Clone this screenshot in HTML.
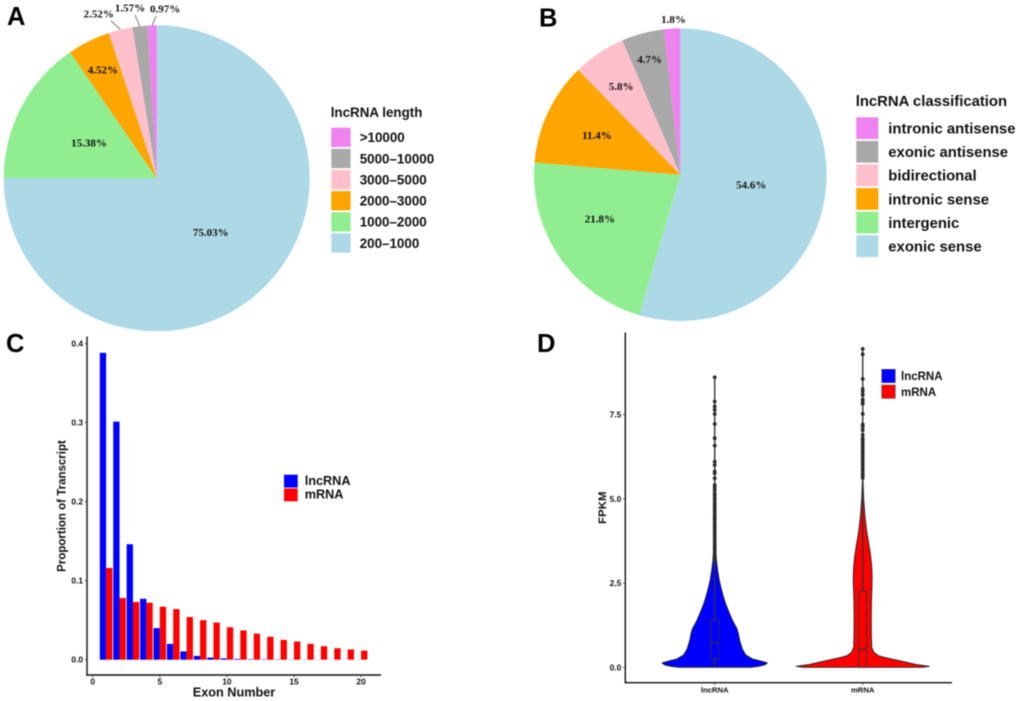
<!DOCTYPE html>
<html lang="en">
<head>
<meta charset="utf-8">
<title>lncRNA and mRNA characteristics</title>
<style>
html,body{margin:0;padding:0;background:#fff;}
body{width:1020px;height:701px;overflow:hidden;}
svg{display:block;filter:blur(0.4px);}
text{font-family:"Liberation Sans",Arial,sans-serif;font-weight:bold;fill:#111;}
.pct{font-family:"Liberation Serif","Times New Roman",serif;font-size:11px;text-anchor:middle;}
.letter{font-size:25.5px;fill:#000;}
</style>
</head>
<body>
<svg id="figure" xmlns="http://www.w3.org/2000/svg" width="1020" height="701" viewBox="0 0 1020 701">
  <rect width="1020" height="701" fill="#fff"/>
  <text class="letter" x="7" y="25">A</text>
  <text class="letter" x="539" y="26.5">B</text>
  <text class="letter" x="6" y="352">C</text>
  <text class="letter" x="537" y="352">D</text>
  <g id="panel-a"></g>
  <g id="panel-b"></g>
  <g id="panel-c"></g>
  <g id="panel-d"></g>
</svg>
<script>
// ---------- Panel A data ----------
const lengthCategories = ['200\u20131000','1000\u20132000','2000\u20133000','3000\u20135000','5000\u201310000','>10000'];
const lengthShares = [75.03,15.38,4.52,2.52,1.57,0.97];
const lengthLabels = ['75.03%','15.38%','4.52%','2.52%','1.57%','0.97%'];
// ---------- Panel B data ----------
const classCategories = ['exonic sense','intergenic','intronic sense','bidirectional','exonic antisense','intronic antisense'];
const classShares = [54.6,21.8,11.4,5.8,4.7,1.8];
const classLabels = ['54.6%','21.8%','11.4%','5.8%','4.7%','1.8%'];
const sliceColors = ['#ADD8E6','#90EE90','#FFA500','#FFC0CB','#A9A9A9','#EE82EE'];
// ---------- Panel C data ----------
const exonNumbers = [1,2,3,4,5,6,7,8,9,10,11,12,13,14,15,16,17,18,19,20];
const lncrnaProportion = [0.388,0.301,0.146,0.077,0.040,0.020,0.0105,0.0048,0.0027,0.0017,0.001,0.0006,0.0005,0.0004,0.0003,0.0002,0.0002,0.0001,0.0001,0.0001];
const mrnaProportion = [0.116,0.078,0.073,0.072,0.067,0.064,0.054,0.050,0.047,0.041,0.037,0.033,0.029,0.025,0.023,0.020,0.017,0.0145,0.013,0.0115];
const barYTicks = [0,0.1,0.2,0.3,0.4];
const barXTicks = [0,5,10,15,20];
// ---------- Panel D data ----------
const fpkmTicks = [0,2.5,5,7.5];
const fpkmTickLabels = ['0.0','2.5','5.0','7.5'];
const lncViolinLevels = [0,0.03,0.07,0.13,0.18,0.25,0.37,0.54,0.79,1.0,1.14,1.25,1.4,1.6,1.88,2.1,2.37,2.6,2.87,3.17,3.5,4,5,6,8.61];
const lncViolinDensity = [0.54,0.66,0.75,0.79,0.70,0.565,0.465,0.415,0.375,0.355,0.335,0.305,0.265,0.222,0.165,0.13,0.094,0.067,0.045,0.027,0.016,0.009,0.004,0.002,0];
const mrnaViolinLevels = [0,0.03,0.08,0.2,0.3,0.35,0.45,0.6,1,1.5,2,2.4,2.7,3,3.3,3.6,4,4.5,5,5.6,9.45];
const mrnaViolinDensity = [0.90,1,0.81,0.54,0.315,0.23,0.165,0.135,0.13,0.129,0.132,0.139,0.142,0.135,0.12,0.097,0.063,0.033,0.015,0.004,0];
const lncBox = {q1:0.25,median:0.74,q3:1.4};
const mrnaBox = {q1:0,median:0.53,q3:2.25};
const lncOutliers = [8.61,7.89,7.74,7.64,7.52,7.22,6.80,6.58,6.10,6.0,5.81,5.76,5.61,5.41,5.34,5.26,5.16,5.1,5.02,4.95,4.87,4.8,4.72,4.65,4.58,4.5,4.44,4.38,4.3,4.22,4.15,4.08,4.0,3.92,3.85,3.78,3.7,3.62,3.55,3.48,3.4,3.32,3.25,3.19];
const mrnaOutliers = [9.45,9.29,8.56,8.26,8.18,8.08,7.95,7.89,7.82,7.52,7.21,7.14,7.04,6.9,6.8,6.74,6.68,6.6,6.54,6.46,6.4,6.33,6.26,6.2,6.12,6.05,5.98,5.9,5.84,5.76,5.7,5.62];
const seriesNames = ['lncRNA','mRNA'];
const seriesColors = ['#0000FF','#FF0000'];

const NS = 'http://www.w3.org/2000/svg';
function make(tag, attrs, parent, content){
  const el = document.createElementNS(NS, tag);
  for(const k in attrs){ el.setAttribute(k, attrs[k]); }
  if(content !== undefined){ el.textContent = content; }
  parent.appendChild(el);
  return el;
}
function polar(c, r, deg){
  const a = deg*Math.PI/180;
  return [c[0]+r*Math.sin(a), c[1]-r*Math.cos(a)];
}

function drawPie(panel, center, R, shares, labels, labelRadius, labelNudge, leaderEnds){
  const total = shares.reduce((s,v)=>s+v,0);
  let cum = 0;
  shares.forEach((v,i)=>{
    const a0 = cum/total*360, a1 = (cum+v)/total*360, mid = (a0+a1)/2;
    cum += v;
    const p0 = polar(center,R,a0), p1 = polar(center,R,a1);
    const large = (a1-a0) > 180 ? 1 : 0;
    const slice = make('path',{d:`M${center[0]} ${center[1]}L${p0[0]} ${p0[1]}A${R} ${R} 0 ${large} 1 ${p1[0]} ${p1[1]}Z`,fill:sliceColors[i]},panel);
    
    
    const lp = polar(center,R*labelRadius[i],mid);
    const lab = make('text',{class:'pct',x:lp[0]+labelNudge[i][0],y:lp[1]+labelNudge[i][1]+3.7},panel,labels[i]);
    
    
    if(leaderEnds[i]){
      const e = polar(center,R,mid);
      const leader = make('line',{x1:e[0],y1:e[1],x2:e[0]+leaderEnds[i][0],y2:e[1]+leaderEnds[i][1],stroke:'#444','stroke-width':0.7},panel);
      
      
    }
  });
}

function drawLegend(panel, title, titleX, titleY, names, keyX, keyTop, keyW, keyH, step, labelX, fontSize){
  const t = make('text',{x:titleX,y:titleY,'font-size':fontSize},panel,title);
  
  
  for(let i=names.length-1, row=0; i>=0; i--, row++){
    const y = keyTop+row*step;
    const key = make('rect',{x:keyX,y:y,width:keyW,height:keyH,fill:sliceColors[i]},panel);
    
    
    const lab = make('text',{x:labelX,y:y+keyH/2+fontSize*0.36,'font-size':fontSize},panel,names[i]);
    
    
  }
}

// Panel A
const panelA = document.getElementById('panel-a');
drawPie(panelA,[156.7,178.3],153,lengthShares,lengthLabels,
  [0.5,0.5,0.793,1,1,1],
  [[0,0],[0,0],[0,0],[-21.7,-15.7],[-9.8,-18.2],[13.1,-16.4]],
  [null,null,null,[-9.7,-9],[-4.8,-11.2],[4.1,-9.4]]);
drawLegend(panelA,'lncRNA length',330.7,117,lengthCategories,331.3,127.7,19.3,19.3,21.13,359.7,13.4);

// Panel B
const panelB = document.getElementById('panel-b');
drawPie(panelB,[680.3,174.7],146.3,classShares,classLabels,
  [0.49,0.63,0.63,0.727,0.815,1.063],
  [[0,0],[-4.4,-8],[0,0],[0,0],[0,0],[2,0]],
  [null,null,null,null,null,null]);
drawLegend(panelB,'lncRNA classification',855.7,106,classCategories,856.3,117.3,22,21.7,23.6,888.3,14.86);

// Panel C
const panelC = document.getElementById('panel-c');
const barX = v => 92.7+v*13.42;
const barY = v => 659.7-v*791;
const barW = 0.47*13.42;
exonNumbers.forEach((n,i)=>{
  const lnc = make('rect',{x:barX(n)-barW,y:barY(lncrnaProportion[i]),width:barW,height:barY(0)-barY(lncrnaProportion[i]),fill:seriesColors[0]},panelC);
  
  
  const mr = make('rect',{x:barX(n),y:barY(mrnaProportion[i]),width:barW,height:barY(0)-barY(mrnaProportion[i]),fill:seriesColors[1]},panelC);
  
  
});
const cAxisY = make('line',{x1:87,y1:336.5,x2:87,y2:675.7,stroke:'#111','stroke-width':1.4},panelC);


const cAxisX = make('line',{x1:86.3,y1:675,x2:381,y2:675,stroke:'#111','stroke-width':1.4},panelC);


barYTicks.forEach(v=>{
  const tick = make('line',{x1:84.8,y1:barY(v),x2:87,y2:barY(v),stroke:'#333','stroke-width':0.8},panelC);
  
  
  const lab = make('text',{x:83,y:barY(v)+3,'font-size':8.4,'text-anchor':'end'},panelC,v.toFixed(1));
  
  
});
barXTicks.forEach(v=>{
  const tick = make('line',{x1:barX(v),y1:675,x2:barX(v),y2:677.4,stroke:'#333','stroke-width':0.8},panelC);
  
  
  const lab = make('text',{x:barX(v),y:684.5,'font-size':8.4,'text-anchor':'middle'},panelC,String(v));
  
  
});
const cXTitle = make('text',{x:234,y:696.7,'font-size':12.7,'text-anchor':'middle'},panelC,'Exon Number');


const cYTitle = make('text',{x:0,y:0,'font-size':11.5,'text-anchor':'middle',transform:'translate(65.7 506) rotate(-90)'},panelC,'Proportion of Transcript');


seriesNames.forEach((n,i)=>{
  const key = make('rect',{x:284,y:474.7+i*13.7,width:13.7,height:12.9,fill:seriesColors[i]},panelC);
  
  
  const lab = make('text',{x:304.7,y:485+i*13.7,'font-size':12.7},panelC,n);
  
  
});

// Panel D
const panelD = document.getElementById('panel-d');
const fpkmY = v => 667.3-v*33.69;
const densityScale = 66.7;
const centers = [714.7,862.7];
function violinPath(cx, levels, density){
  const right = levels.map((v,i)=>`${cx+density[i]*densityScale} ${fpkmY(v)}`);
  const left = levels.map((v,i)=>`${cx-density[i]*densityScale} ${fpkmY(v)}`).reverse();
  return 'M'+right.join('L')+'L'+left.join('L')+'Z';
}
function drawViolin(cx, levels, density, color, box, outliers, name){
  const v = make('path',{d:violinPath(cx,levels,density),fill:color,stroke:'#222','stroke-width':0.9,'stroke-linejoin':'round'},panelD);
  
  
  const stem = make('line',{x1:cx,y1:fpkmY(levels[levels.length-1]),x2:cx,y2:fpkmY(0),stroke:'#333','stroke-width':1.3},panelD);
  
  
  const rect = make('rect',{x:cx-3.9,y:fpkmY(box.q3),width:7.8,height:fpkmY(box.q1)-fpkmY(box.q3),fill:color,stroke:'#333','stroke-width':0.9},panelD);
  
  
  const med = make('line',{x1:cx-3.9,y1:fpkmY(box.median),x2:cx+3.9,y2:fpkmY(box.median),stroke:'#333','stroke-width':1.3},panelD);
  
  
  outliers.forEach(o=>{
    const dot = make('circle',{cx:cx,cy:fpkmY(o),r:1.9,fill:'#2b2b2b'},panelD);
    
    
  });
}
drawViolin(centers[0],lncViolinLevels,lncViolinDensity,seriesColors[0],lncBox,lncOutliers,'lncrna');
drawViolin(centers[1],mrnaViolinLevels,mrnaViolinDensity,seriesColors[1],mrnaBox,mrnaOutliers,'mrna');
const dAxisY = make('line',{x1:625.3,y1:332.5,x2:625.3,y2:683.4,stroke:'#111','stroke-width':1.4},panelD);


const dAxisX = make('line',{x1:624.6,y1:682.7,x2:952,y2:682.7,stroke:'#111','stroke-width':1.4},panelD);


fpkmTicks.forEach((v,i)=>{
  const tick = make('line',{x1:623,y1:fpkmY(v),x2:625.3,y2:fpkmY(v),stroke:'#333','stroke-width':0.8},panelD);
  
  
  const lab = make('text',{x:621.3,y:fpkmY(v)+3,'font-size':8.4,'text-anchor':'end'},panelD,fpkmTickLabels[i]);
  
  
});
seriesNames.forEach((n,i)=>{
  const tick = make('line',{x1:centers[i],y1:682.7,x2:centers[i],y2:685,stroke:'#333','stroke-width':0.8},panelD);
  
  
  const lab = make('text',{x:centers[i],y:692.7,'font-size':7.7,'text-anchor':'middle'},panelD,n);
  
  
  const key = make('rect',{x:881.7,y:369.3+i*15.7,width:13.6,height:13.4,fill:seriesColors[i],stroke:'#555','stroke-width':0.6},panelD);
  
  
  const ll = make('text',{x:901,y:380+i*16,'font-size':11.5},panelD,n);
  
  
});
const dYTitle = make('text',{x:0,y:0,'font-size':11.4,'text-anchor':'middle',transform:'translate(606 507.7) rotate(-90)'},panelD,'FPKM');


</script>
</body>
</html>
